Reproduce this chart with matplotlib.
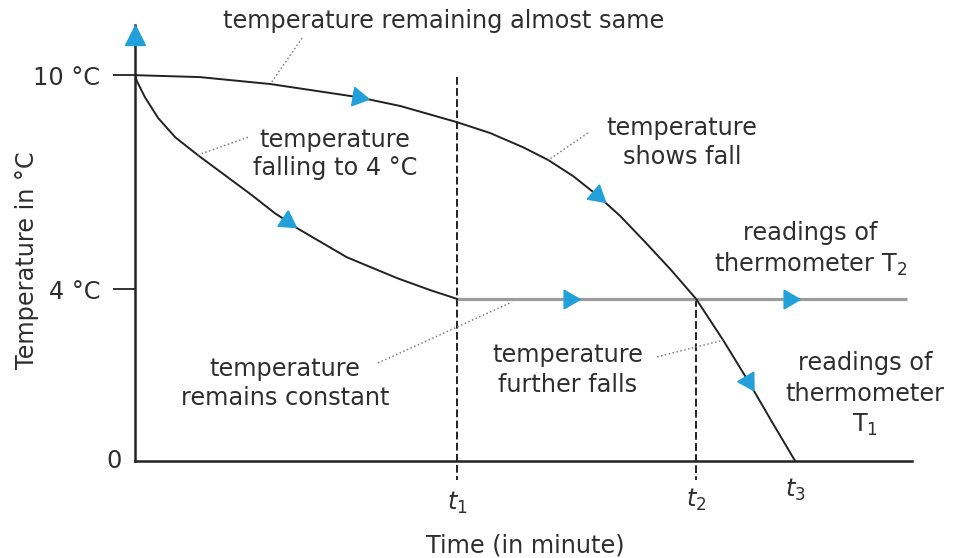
import numpy as np
import matplotlib
matplotlib.use("Agg")
import matplotlib.pyplot as plt

plt.rcParams['font.family'] = ['DejaVu Sans']
plt.rcParams['mathtext.fontset'] = 'dejavusans'

# ---------------- data ----------------
# thermometer T1 (upper curve)
t1_time = [0.0, 0.98, 2.05, 3.38, 4.02, 4.88, 5.38, 5.88, 6.26, 6.64, 7.00,
           7.35, 7.73, 8.11, 8.50, 8.91, 9.29, 9.65, 10.0]
t1_temp = [10.0, 9.95, 9.77, 9.43, 9.20, 8.78, 8.50, 8.13, 7.80, 7.38, 6.89,
           6.35, 5.67, 4.97, 4.20, 3.13, 2.07, 1.01, 0.0]
t1_arrow_idx = [3, 10, 16]

# thermometer T2 (lower curve, then constant)
t2_time = [0.0, 0.03, 0.15, 0.35, 0.61, 0.95, 1.36, 1.77, 2.12, 2.30, 2.45,
           3.21, 3.97, 4.47, 4.88]
t2_temp = [10.0, 9.84, 9.43, 8.89, 8.39, 7.93, 7.41, 6.89, 6.42, 6.22, 6.04,
           5.28, 4.74, 4.43, 4.20]
t2_arrow_idx = [9]
plateau_time = [4.88, 11.70]
plateau_temp = [4.20, 4.20]
plateau_arrow_time = [6.58, 9.91]

# axis ticks
temp_ticks = [0, 4.45, 10]
temp_labels = ['0', '4 °C', '10 °C']
time_ticks = [4.88, 8.50, 10.0]
time_labels = [r'$t_1$', r'$t_2$', r'$t_3$']

# annotations: (lines, x, first-line baseline y, line step, leader from, leader to)
annotations = [
    (['temperature remaining almost same'], 4.67, 11.22, 0, (2.53, 10.96), (2.05, 9.77)),
    (['temperature', 'falling to 4 °C'], 3.03, 8.13, 0.73, (1.71, 8.39), (0.95, 7.93)),
    (['temperature', 'shows fall'], 8.29, 8.45, 0.76, (6.86, 8.50), (6.26, 7.80)),
    (['readings of', r'thermometer T$_2$'], 10.23, 5.73, 0.83, None, None),
    (['temperature', 'remains constant'], 2.27, 2.20, 0.75, (3.68, 2.54), (5.71, 4.12)),
    (['temperature', 'further falls'], 6.56, 2.56, 0.77, (7.91, 2.70), (8.91, 3.13)),
    (['readings of', 'thermometer', r'T$_1$'], 11.06, 2.36, 0.80, None, None),
]

BLUE = '#22A0DA'
INK = '#222222'
TXT = '#2e2e2e'
FS = 17.3

fig = plt.figure(figsize=(9.55, 5.58), dpi=100)
ax = fig.add_axes([135 / 955, (558 - 461) / 558, (912 - 135) / 955, (461 - 25) / 558])
ax.set_xlim(0, 11.77)
ax.set_ylim(0, 11.3)
for s in ['top', 'right']:
    ax.spines[s].set_visible(False)
for s in ['left', 'bottom']:
    ax.spines[s].set_linewidth(1.8)
    ax.spines[s].set_color(INK)

# y ticks
ax.set_yticks(temp_ticks, ['', temp_labels[1], temp_labels[2]])
ax.tick_params(axis='y', length=16, width=1.3, color=INK, pad=9,
               labelsize=FS, labelcolor=TXT)
ax.yaxis.get_major_ticks()[0].tick1line.set_visible(False)
ax.text(-0.32, temp_ticks[0], temp_labels[0], ha='center', va='center',
        fontsize=FS, color=TXT)
ax.set_xticks([])

# x tick labels
for xv, lab, dy in zip(time_ticks, time_labels, [-1.08, -1.02, -0.75]):
    ax.text(xv, dy, lab, ha='center', va='center', fontsize=FS, color=TXT)

# dashed verticals
ax.plot([time_ticks[0]] * 2, [9.95, -0.49], color=INK, lw=1.4,
        ls=(0, (4, 1.7)), clip_on=False, zorder=2)
ax.plot([time_ticks[1]] * 2, [plateau_temp[0], -0.49], color=INK, lw=1.4,
        ls=(0, (4, 1.7)), clip_on=False, zorder=2)

# curves
ax.plot(plateau_time, plateau_temp, color='#9b9b9b', lw=2.3, zorder=3,
        solid_capstyle='butt')
ax.plot(t1_time, t1_temp, color=INK, lw=1.4, zorder=4,
        solid_joinstyle='round')
ax.plot(t2_time, t2_temp, color=INK, lw=1.4, zorder=4,
        solid_joinstyle='round')

fig.canvas.draw()


def arrow_at(xs, ys, i):
    pts = ax.transData.transform(np.column_stack([xs, ys]))
    a = pts[max(i - 1, 0)]
    b = pts[min(i + 1, len(xs) - 1)]
    ang = np.degrees(np.arctan2(b[1] - a[1], b[0] - a[0]))
    ax.plot(xs[i], ys[i], marker=(3, 0, ang - 90), ms=15.5, color=BLUE,
            mec=BLUE, zorder=6, clip_on=False)


for i in t1_arrow_idx:
    arrow_at(t1_time, t1_temp, i)
for i in t2_arrow_idx:
    arrow_at(t2_time, t2_temp, i)
for xv in plateau_arrow_time:
    ax.plot(xv, plateau_temp[0], marker=(3, 0, -90), ms=15.5, color=BLUE,
            mec=BLUE, zorder=6)

# y-axis arrow head
ax.plot(0, 11.05, marker='^', ms=15, color=BLUE, mec=BLUE, zorder=6,
        clip_on=False)

# annotations
for lines, x, y0, step, p0, p1 in annotations:
    for k, line in enumerate(lines):
        ax.text(x, y0 - k * step, line, ha='center', va='baseline',
                fontsize=FS, color=TXT, zorder=7)
    if p0 is not None:
        ax.plot([p0[0], p1[0]], [p0[1], p1[1]], color='#808080', lw=1.1,
                ls=(0, (1, 1.6)), zorder=5, clip_on=False)

# axis titles
ax.text(5.91, -2.18, 'Time (in minute)', ha='center', va='center',
        fontsize=FS, color=TXT)
ax.text(-1.64, 5.21, 'Temperature in °C', ha='center', va='center',
        rotation=90, fontsize=FS, color=TXT)

fig.savefig('out.png', dpi=100)
